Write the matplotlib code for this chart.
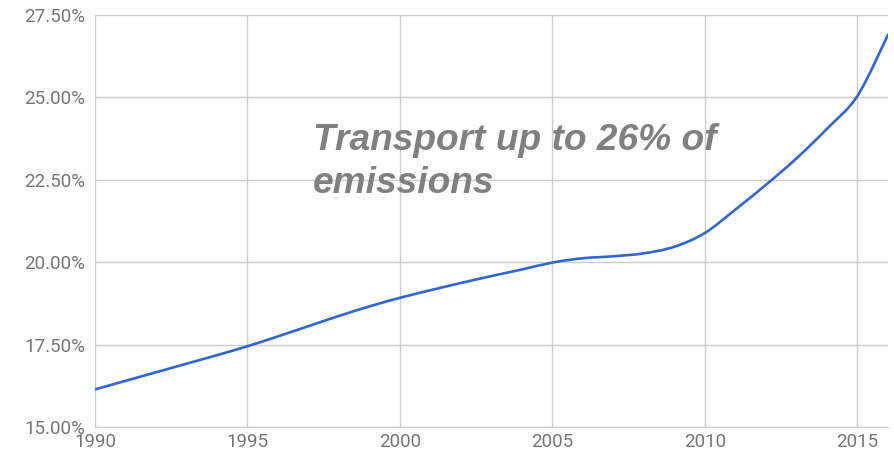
import numpy as np
import matplotlib
matplotlib.use('Agg')
from matplotlib import pyplot as plt
from matplotlib.ticker import FuncFormatter
from matplotlib.path import Path
from matplotlib.patches import PathPatch

# transport share of emissions
years = list(range(1990, 2017))
share = [16.14, 16.40, 16.66, 16.92, 17.18, 17.45, 17.75, 18.06, 18.37, 18.66,
         18.92, 19.15, 19.37, 19.58, 19.78, 19.99, 20.12, 20.18, 20.27, 20.47,
         20.89, 21.60, 22.35, 23.15, 24.05, 25.05, 26.90]
xticks = [1990, 1995, 2000, 2005, 2010, 2015]
yticks = [15.0, 17.5, 20.0, 22.5, 25.0, 27.5]
note_lines = ['Transport up to 26% of', 'emissions']

fig = plt.figure(figsize=(8.94, 4.55), dpi=100)
ax = fig.add_axes([95/894, 1-427/455, (888-95)/894, (427-15)/455])

# smooth curve through the points (bezier segments, like the original chart's function curve)
x = np.array(years, dtype=float)
y = np.array(share)
verts = [(x[0], y[0])]
codes = [Path.MOVETO]
t = 1/6.
for i in range(len(x) - 1):
    i0 = max(i - 1, 0)
    i3 = min(i + 2, len(x) - 1)
    c1 = (x[i] + (x[i+1] - x[i0]) * t, y[i] + (y[i+1] - y[i0]) * t)
    c2 = (x[i+1] - (x[i3] - x[i]) * t, y[i+1] - (y[i3] - y[i]) * t)
    verts += [c1, c2, (x[i+1], y[i+1])]
    codes += [Path.CURVE4] * 3
ax.add_patch(PathPatch(Path(verts, codes), fill=False, edgecolor='#3366cc', lw=1.9,
                       capstyle='round', zorder=3))

ax.set_xlim(1990, 2016)
ax.set_ylim(15, 27.5)
ax.set_xticks(xticks)
ax.set_yticks(yticks)
ax.yaxis.set_major_formatter(FuncFormatter(lambda v, p: '%.2f%%' % v))
ax.grid(True, color='#cccccc', lw=1)
ax.set_axisbelow(True)
for s in ax.spines.values():
    s.set_visible(False)
ax.spines['bottom'].set_visible(True)
ax.spines['bottom'].set_color('#cccccc')
ax.spines['left'].set_visible(True)
ax.spines['left'].set_color('#cccccc')
ax.tick_params(length=0, labelsize=13.5, labelcolor='#757575', pad=7)
for lab in ax.get_xticklabels() + ax.get_yticklabels():
    lab.set_family('Roboto')
ax.tick_params(axis='x', pad=4)

# annotation
fig.text(313/894, 1-150/455, note_lines[0], fontsize=26.7, fontweight='bold', fontstyle='italic',
         color='#808080', family='Liberation Sans', va='baseline', ha='left')
fig.text(313/894, 1-193/455, note_lines[1], fontsize=26.7, fontweight='bold', fontstyle='italic',
         color='#808080', family='Liberation Sans', va='baseline', ha='left')

fig.savefig('out.png', dpi=100)
